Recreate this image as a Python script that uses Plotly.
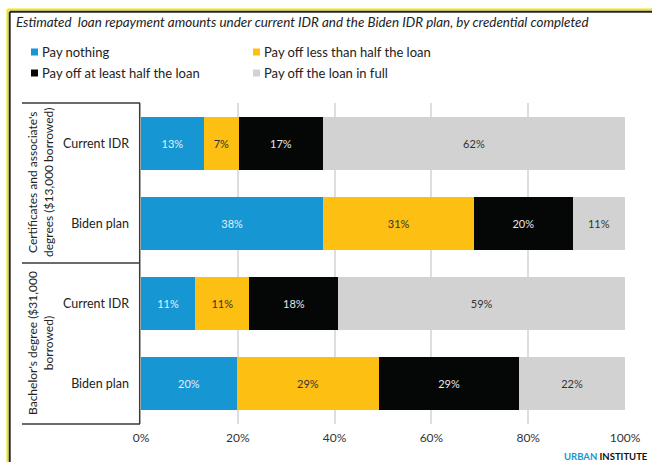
import plotly.graph_objects as go

# Loan repayment outcomes by credential and plan (percent of borrowers)
rows = ["Current IDR", "Biden plan", "Current IDR", "Biden plan"]
groups = ["Certificates and associate's<br>degrees ($13,000 borrowed)",
          "Bachelor's degree ($31,000<br>borrowed)"]
series = ["Pay nothing", "Pay off less than half the loan",
          "Pay off at least half the loan", "Pay off the loan in full"]
pay_nothing = [13.0, 37.7, 11.2, 19.8]
less_than_half = [7.2, 31.1, 11.2, 29.4]
at_least_half = [17.4, 20.4, 18.4, 28.9]
in_full = [62.4, 10.8, 59.2, 21.9]
tick_values = [0, 20, 40, 60, 80, 100]
tick_labels = ["0%", "20%", "40%", "60%", "80%", "100%"]

colors = ["#1696d2", "#fdbf11", "#050707", "#d2d2d2"]
text_colors = ["#e4eff8", "#333333", "#e6e6e6", "#333333"]
values = [pay_nothing, less_than_half, at_least_half, in_full]

W, H = 652, 462
ML, MR, MT, MB = 141, 27, 103, 38
PW, PH = W - ML - MR, H - MT - MB
FONT = "Lato"


def px(x):
    return (x - ML) / PW


def py(y):
    return (H - MB - y) / PH


fig = go.Figure()
ypos = list(range(len(rows)))
for name, vals, c, tc in zip(series, values, colors, text_colors):
    fig.add_trace(go.Bar(
        x=vals, y=ypos, orientation="h", name=name,
        marker=dict(color=c, line=dict(width=0)),
        text=[f"{round(v)}%" for v in vals], textposition="inside",
        insidetextanchor="middle", textangle=0, constraintext="none",
        textfont=dict(family=FONT, size=11, color=tc),
        showlegend=False,
    ))

shapes = []
annotations = []

# outer frame: yellow rule with dark rule inside
for x0, y0, x1, y1, c in [
    (7.5, 9.5, W, 9.5, "#f4e600"), (7.5, 9.5, 7.5, H, "#f4e600"),
    (9.7, 11.7, W, 11.7, "#222222"), (9.7, 11.7, 9.7, H, "#222222"),
]:
    shapes.append(dict(type="line", xref="paper", yref="paper",
                       x0=px(x0), y0=py(y0), x1=px(x1), y1=py(y1),
                       line=dict(color=c, width=2)))

# group bracket lines beside the category labels
for yy in [103, 263, 424]:
    shapes.append(dict(type="line", xref="paper", yref="paper",
                       x0=px(22), x1=px(140), y0=py(yy), y1=py(yy),
                       line=dict(color="#3a3a3a", width=1.5)))
shapes.append(dict(type="line", xref="paper", yref="paper",
                   x0=px(139.7), x1=px(139.7), y0=py(103), y1=py(424),
                   line=dict(color="#3a3a3a", width=1.5)))

# legend as squares and labels
legend_pos = [(31, 52), (253, 52), (31, 73), (253, 73)]
for (lx, ly), name, c in zip(legend_pos, series, colors):
    shapes.append(dict(type="rect", xref="paper", yref="paper",
                       x0=px(lx), x1=px(lx + 7), y0=py(ly - 3.5), y1=py(ly + 3.5),
                       fillcolor=c, line=dict(width=0)))
    annotations.append(dict(text=name, xref="paper", yref="paper",
                            x=px(lx + 9), y=py(ly), xanchor="left", yanchor="middle",
                            showarrow=False,
                            font=dict(family=FONT, size=13, color="#222222")))

# title
annotations.append(dict(
    text="<i>Estimated  loan repayment amounts under current IDR and the Biden IDR plan, by credential completed</i>",
    xref="paper", yref="paper", x=px(14), y=py(22), xanchor="left", yanchor="middle",
    showarrow=False, font=dict(family=FONT, size=13.4, color="#222222")))

# rotated group labels
for g, cy in zip(groups, [183, 343]):
    annotations.append(dict(text=g, xref="paper", yref="paper",
                            x=px(40), y=py(cy), xanchor="center", yanchor="middle",
                            textangle=-90, showarrow=False,
                            font=dict(family=FONT, size=12, color="#222222")))

# source mark
annotations.append(dict(
    text="<b><span style='color:#1696d2'>URBAN</span> INSTITUTE</b>",
    xref="paper", yref="paper", x=px(650), y=py(457), xanchor="right", yanchor="middle",
    showarrow=False, font=dict(family=FONT, size=9.5, color="#111111")))

fig.update_layout(
    barmode="stack", bargap=0.34,
    width=W, height=H,
    margin=dict(l=ML, r=MR, t=MT, b=MB, autoexpand=False),
    paper_bgcolor="white", plot_bgcolor="white",
    shapes=shapes, annotations=annotations,
    xaxis=dict(range=[0, 100], tickvals=tick_values, ticktext=tick_labels,
               showgrid=True, gridcolor="#dedede", gridwidth=1.5,
               zeroline=False, showline=False, ticks="",
               ticklabelstandoff=5,
               tickfont=dict(family=FONT, size=12, color="#333333")),
    yaxis=dict(tickvals=ypos, ticktext=rows, range=[3.5, -0.5],
               showgrid=False, zeroline=False, showline=False, ticks="",
               ticklabelstandoff=11,
               tickfont=dict(family=FONT, size=12.5, color="#222222")),
)

fig.write_html("out.html")
